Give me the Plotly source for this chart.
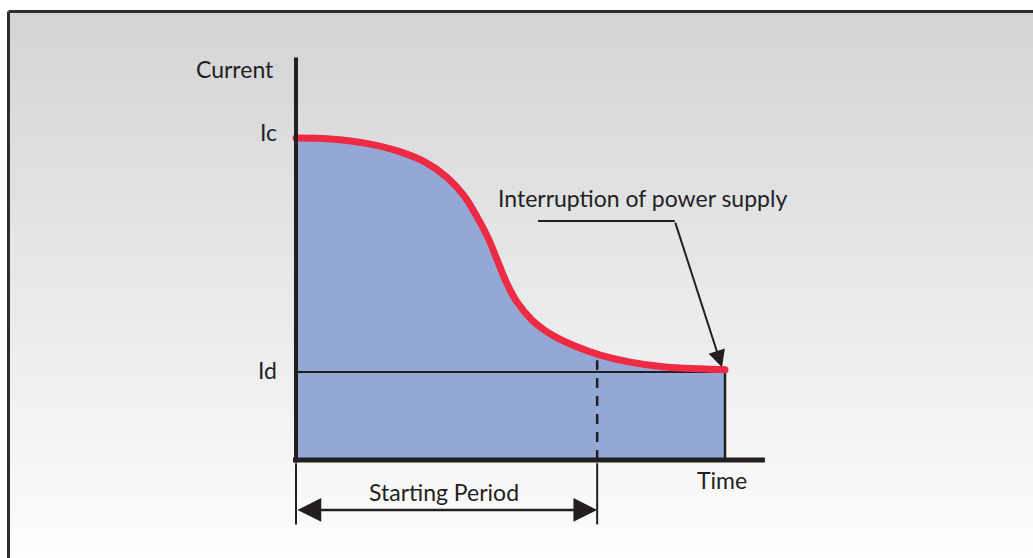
import plotly.graph_objects as go

# ---- data (arbitrary units) ----
t_curve = [0.0, 0.79, 1.61, 2.38, 3.01, 3.52, 3.92, 4.22, 4.48, 4.69, 4.90, 5.15, 5.50, 5.97, 6.50, 7.09, 7.79, 8.60, 9.42, 10.0]
i_curve = [1.000, 0.997, 0.984, 0.959, 0.925, 0.878, 0.820, 0.755, 0.689, 0.621, 0.553, 0.491, 0.435, 0.388, 0.354, 0.326, 0.304, 0.289, 0.283, 0.280]
Ic = 1.0
Id = 0.273
t_start_end = 7.02       # end of starting period
t_interrupt = 10.0       # interruption of power supply
t_axis_end = 10.93
i_axis_end = 1.25
i_dash_top = 0.31
axis_labels = {"Current": (-1.43, 1.215), "Ic": (-0.4, 1.02), "Id": (-0.4, Id + 0.005), "Time": (9.92, -0.062)}

W, H = 1033, 558
OFF = 0                      # body margin removed via post_script
px_per_t = 42.9
px_per_i = 322.0
x0_px, y0_px = 296 - OFF, 460 - OFF
x_range = [-x0_px / px_per_t, (W - x0_px) / px_per_t]
y_range = [-(H - y0_px) / px_per_i, y0_px / px_per_i]

INK = "#231f20"
RED = "#ee2a45"
FILL = "#94a8d6"
FONT = "Lato"
FS = 23

fig = go.Figure()

# background gradient bands (paper coords), frame starts at (8, 11)
shapes = []
fx0 = (8.5 - OFF) / W
fy1 = 1 - (11.5 - OFF) / H
n = 60
top = (211, 212, 214)
bot = (253, 253, 253)
for k in range(n):
    a = k / (n - 1)
    c = tuple(round(top[j] + (bot[j] - top[j]) * a) for j in range(3))
    y_hi = fy1 - (fy1 + 0.01) * k / n
    y_lo = fy1 - (fy1 + 0.01) * (k + 1) / n
    shapes.append(dict(type="rect", xref="paper", yref="paper", x0=fx0, x1=1.01,
                       y0=y_lo - 0.002, y1=y_hi, line=dict(width=0),
                       fillcolor=f"rgb{c}", layer="below"))
# frame
shapes.append(dict(type="line", xref="paper", yref="paper", x0=fx0, x1=1.01, y0=fy1, y1=fy1,
                   line=dict(color="#2e2e2e", width=3), layer="below"))
shapes.append(dict(type="line", xref="paper", yref="paper", x0=fx0, x1=fx0, y0=-0.01, y1=fy1,
                   line=dict(color="#2e2e2e", width=3), layer="below"))

# filled area under the curve
fig.add_trace(go.Scatter(x=t_curve, y=i_curve, mode="lines", line=dict(width=0, shape="spline", smoothing=1.0),
                         fill="tozeroy", fillcolor=FILL, hoverinfo="skip", showlegend=False))
# Id line
fig.add_trace(go.Scatter(x=[0, t_interrupt], y=[Id, Id], mode="lines",
                         line=dict(color=INK, width=2), hoverinfo="skip", showlegend=False))
# vertical line at interruption
fig.add_trace(go.Scatter(x=[t_interrupt, t_interrupt], y=[0, i_curve[-1]], mode="lines",
                         line=dict(color=INK, width=2.5), hoverinfo="skip", showlegend=False))
# dashed line at end of starting period
fig.add_trace(go.Scatter(x=[t_start_end, t_start_end], y=[0, i_dash_top], mode="lines",
                         line=dict(color=INK, width=2.5, dash="10px,8px"), hoverinfo="skip", showlegend=False))
# red curve
fig.add_trace(go.Scatter(x=t_curve, y=i_curve, mode="lines",
                         line=dict(color=RED, width=7, shape="spline", smoothing=1.0),
                         hoverinfo="skip", showlegend=False))
fig.add_trace(go.Scatter(x=[t_curve[0], t_curve[-1]], y=[i_curve[0], i_curve[-1]], mode="markers",
                         marker=dict(color=RED, size=7, line=dict(width=0)), hoverinfo="skip", showlegend=False))

# axes lines
shapes.append(dict(type="line", xref="x", yref="y", x0=0, x1=0, y0=-0.008, y1=i_axis_end,
                   line=dict(color=INK, width=4), layer="above"))
shapes.append(dict(type="line", xref="x", yref="y", x0=-0.07, x1=t_axis_end, y0=0, y1=0,
                   line=dict(color=INK, width=5), layer="above"))
# starting period ticks
shapes.append(dict(type="line", xref="x", yref="y", x0=0, x1=0, y0=-0.01, y1=-0.2,
                   line=dict(color=INK, width=2), layer="above"))
shapes.append(dict(type="line", xref="x", yref="y", x0=t_start_end, x1=t_start_end, y0=-0.01, y1=-0.2,
                   line=dict(color=INK, width=2), layer="above"))
# leader horizontal part
lead_y = 0.742
lead_x0, lead_x1 = 5.64, 8.83
shapes.append(dict(type="line", xref="x", yref="y", x0=lead_x0, x1=lead_x1, y0=lead_y, y1=lead_y,
                   line=dict(color=INK, width=2), layer="above"))

annotations = []
# starting period double arrow
annotations.append(dict(x=t_start_end, y=-0.155, ax=0, ay=-0.155, xref="x", yref="y", axref="x", ayref="y",
                        text="", showarrow=True, arrowhead=2, startarrowhead=2, arrowside="end+start",
                        arrowsize=1.9, startarrowsize=1.9, arrowwidth=2.5, arrowcolor=INK,
                        standoff=0, startstandoff=0))
# leader arrow to interruption point
annotations.append(dict(x=9.93, y=0.288, ax=lead_x1, ay=lead_y, xref="x", yref="y", axref="x", ayref="y",
                        text="", showarrow=True, arrowhead=2, arrowsize=1.7, arrowwidth=2, arrowcolor=INK,
                        standoff=0))
annotations.append(dict(x=t_start_end / 2 - 0.05, y=-0.1, xref="x", yref="y", text="Starting Period",
                        showarrow=False, font=dict(family=FONT, size=FS, color=INK)))
annotations.append(dict(x=8.07, y=0.815, xref="x", yref="y", text="Interruption of power supply",
                        showarrow=False, font=dict(family=FONT, size=FS, color=INK)))
for txt, (xx, yy) in axis_labels.items():
    annotations.append(dict(x=xx, y=yy, xref="x", yref="y", text=txt, showarrow=False,
                            xanchor="right" if txt in ("Ic", "Id") else "center",
                            font=dict(family=FONT, size=FS, color=INK)))

fig.update_layout(
    width=W, height=H, margin=dict(l=0, r=0, t=0, b=0),
    paper_bgcolor="white", plot_bgcolor="rgba(0,0,0,0)",
    xaxis=dict(range=x_range, visible=False, fixedrange=True),
    yaxis=dict(range=y_range, visible=False, fixedrange=True),
    shapes=shapes, annotations=annotations, showlegend=False,
)

fig.write_html("out.html", config={"displayModeBar": False},
               post_script="document.body.style.margin='0';document.body.style.overflow='hidden';")
